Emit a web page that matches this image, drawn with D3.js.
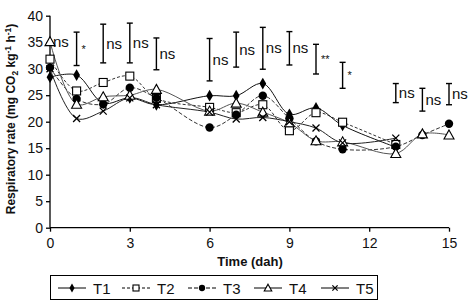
<!DOCTYPE html>
<html><head><meta charset="utf-8">
<script src="https://cdn.jsdelivr.net/npm/d3@7"></script>
<style>
body{margin:0;background:#fff;}
svg{display:block;}
text{font-family:"Liberation Sans Narrow","Arial Narrow","Liberation Sans",sans-serif;fill:#111;}
</style></head>
<body><svg id="c" width="473" height="304"></svg>
<script>
const days = [0,1,2,3,4,6,7,8,9,10,11,13,14,15];
const T1 = [28.4,28.8,23.5,24.5,23.2,24.9,24.9,27.2,21.4,22.6,19.3,15.2,null,null];
const T2 = [31.8,25.8,27.4,28.6,24.4,22.7,21.7,23.2,18.3,21.7,19.9,15.7,null,null];
const T3 = [30.2,24.3,23.3,26.4,24.5,18.9,21.3,24.9,20.6,16.3,14.8,15.3,17.5,19.6];
const T4 = [35.1,23.3,24.7,25.0,26.1,22.0,23.5,21.8,19.8,16.4,16.2,14.0,17.7,17.5];
const T5 = [30.0,20.6,22.0,24.5,23.2,21.8,20.5,20.8,20.0,18.8,16.0,16.9,null,null];
const seriesNames = ["T1","T2","T3","T4","T5"];
const barHigh = [null,36.9,38.4,38.6,35.8,35.7,36.9,37.8,37.0,34.6,31.2,27.2,26.3,27.2];
const barLow  = [null,30.6,31.1,31.1,29.8,27.7,30.3,29.9,30.7,29.0,26.3,23.6,22.0,23.2];
const sigLabels = ["ns","*","ns","ns","ns","ns","ns","ns","ns","**","*","ns","ns","ns"];
const sigLabelY = [35.0,null,null,null,null,null,null,null,null,null,null,null,null,null];
const xTicks = [0,3,6,9,12,15];
const yTicks = [0,5,10,15,20,25,30,35,40];

const svg = d3.select("#c");
const x = d3.scaleLinear().domain([0,15]).range([50,449]);
const y = d3.scaleLinear().domain([0,40]).range([227.7,15.7]);

// axes
const gy = svg.append("g").attr("transform","translate(50,0)")
  .call(d3.axisLeft(y).tickValues(yTicks).tickSize(4).tickPadding(3).tickFormat(d3.format("d")));
const gx = svg.append("g").attr("transform","translate(0,227.7)")
  .call(d3.axisBottom(x).tickValues(xTicks).tickSize(4).tickPadding(6).tickFormat(d3.format("d")));
[gx,gy].forEach(g=>{
  g.select(".domain").attr("stroke","#000").attr("stroke-width",1.3);
  g.selectAll(".tick line").attr("stroke","#000").attr("stroke-width",1.3);
  g.selectAll(".tick text").style("font-size","14px").attr("fill","#111");
});
gy.select(".domain").attr("d","M0,15.7V227.7");
gx.select(".domain").attr("d","M50,0H449");

// titles
svg.append("text").attr("x",250).attr("y",266).attr("text-anchor","middle")
  .style("font-weight","bold").style("font-size","13px").text("Time (dah)");
const yt = svg.append("text").attr("transform","translate(15,119) rotate(-90)")
  .attr("text-anchor","middle").style("font-weight","bold").style("font-size","12px");
yt.append("tspan").text("Respiratory rate (mg CO");
yt.append("tspan").attr("dy",3).style("font-size","8.5px").text("2");
yt.append("tspan").attr("dy",-3).text(" kg");
yt.append("tspan").attr("dy",-4).style("font-size","8.5px").text("-1");
yt.append("tspan").attr("dy",4).text(" h");
yt.append("tspan").attr("dy",-4).style("font-size","8.5px").text("-1");
yt.append("tspan").attr("dy",4).text(")");

// error bars + significance labels
const eb = svg.append("g");
days.forEach((d,i)=>{
  const cx = x(d);
  if(barHigh[i]!=null){
    const y1=y(barHigh[i]), y2=y(barLow[i]);
    eb.append("line").attr("x1",cx).attr("x2",cx).attr("y1",y1).attr("y2",y2).attr("stroke","#000").attr("stroke-width",1.4);
    [y1,y2].forEach(yy=>eb.append("line").attr("x1",cx-3).attr("x2",cx+3).attr("y1",yy).attr("y2",yy).attr("stroke","#000").attr("stroke-width",1.4));
  }
  const lab = sigLabels[i];
  const mid = barHigh[i]!=null ? y((barHigh[i]+barLow[i])/2) : y(sigLabelY[i]);
  const star = lab.indexOf("*")>=0;
  eb.append("text").attr("x",cx+(star?5:3)).attr("y",star?mid+4:mid+5)
    .style("font-size",star?"11px":"15px").attr("fill",star?"#222":"#111").text(lab);
});

// series
const styles = {
  T1:{dash:null, color:"#111", marker:"diamond"},
  T2:{dash:"3,2", color:"#333", marker:"square"},
  T3:{dash:"4,2", color:"#333", marker:"circle"},
  T4:{dash:null, color:"#555", marker:"triangle"},
  T5:{dash:null, color:"#222", marker:"cross"}
};
const data = {T1,T2,T3,T4,T5};
const line = d3.line().defined(d=>d[1]!=null).x(d=>x(d[0])).y(d=>y(d[1])).curve(d3.curveCatmullRom.alpha(0.5));

function marker(g, type, cx, cy, s){
  s = s||1;
  if(type==="diamond"){
    g.append("path").attr("d",d3.symbol(d3.symbolDiamond,40*s*s)()).attr("transform",`translate(${cx},${cy})`).attr("fill","#000");
  } else if(type==="square"){
    g.append("rect").attr("x",cx-4*s).attr("y",cy-4*s).attr("width",8*s).attr("height",8*s).attr("fill","#fff").attr("stroke","#000").attr("stroke-width",1.1);
  } else if(type==="circle"){
    g.append("circle").attr("cx",cx).attr("cy",cy).attr("r",4.2*s).attr("fill","#000");
  } else if(type==="triangle"){
    g.append("path").attr("d",`M${cx},${cy-5*s}L${cx+5*s},${cy+4*s}L${cx-5*s},${cy+4*s}Z`).attr("fill","#fff").attr("stroke","#000").attr("stroke-width",1.1);
  } else if(type==="cross"){
    g.append("path").attr("d",`M${cx-3.5*s},${cy-3.5*s}L${cx+3.5*s},${cy+3.5*s}M${cx-3.5*s},${cy+3.5*s}L${cx+3.5*s},${cy-3.5*s}`).attr("stroke","#000").attr("stroke-width",1.3);
  }
}

const sg = svg.append("g");
seriesNames.forEach(n=>{
  const pts = days.map((d,i)=>[d,data[n][i]]).filter(p=>p[1]!=null);
  sg.append("path").attr("d",line(pts)).attr("fill","none").attr("stroke",styles[n].color)
    .attr("stroke-width",1).attr("stroke-dasharray",styles[n].dash);
});
seriesNames.forEach(n=>{
  const g = sg.append("g");
  days.forEach((d,i)=>{ if(data[n][i]!=null) marker(g, styles[n].marker, x(d), y(data[n][i])); });
});

// legend
const lg = svg.append("g");
lg.append("rect").attr("x",50.5).attr("y",275.5).attr("width",327).attr("height",24).attr("fill","#fff").attr("stroke","#000").attr("stroke-width",1);
const legX = [58,122,188,254,321];
seriesNames.forEach((n,i)=>{
  const x0 = legX[i], ly = 288;
  lg.append("line").attr("x1",x0).attr("x2",x0+28).attr("y1",ly).attr("y2",ly).attr("stroke","#000").attr("stroke-width",1)
    .attr("stroke-dasharray",styles[n].dash);
  marker(lg, styles[n].marker, x0+14, ly, 0.75);
  lg.append("text").attr("x",x0+35).attr("y",ly+6).style("font-size","15px").text(n);
});
</script></body></html>
